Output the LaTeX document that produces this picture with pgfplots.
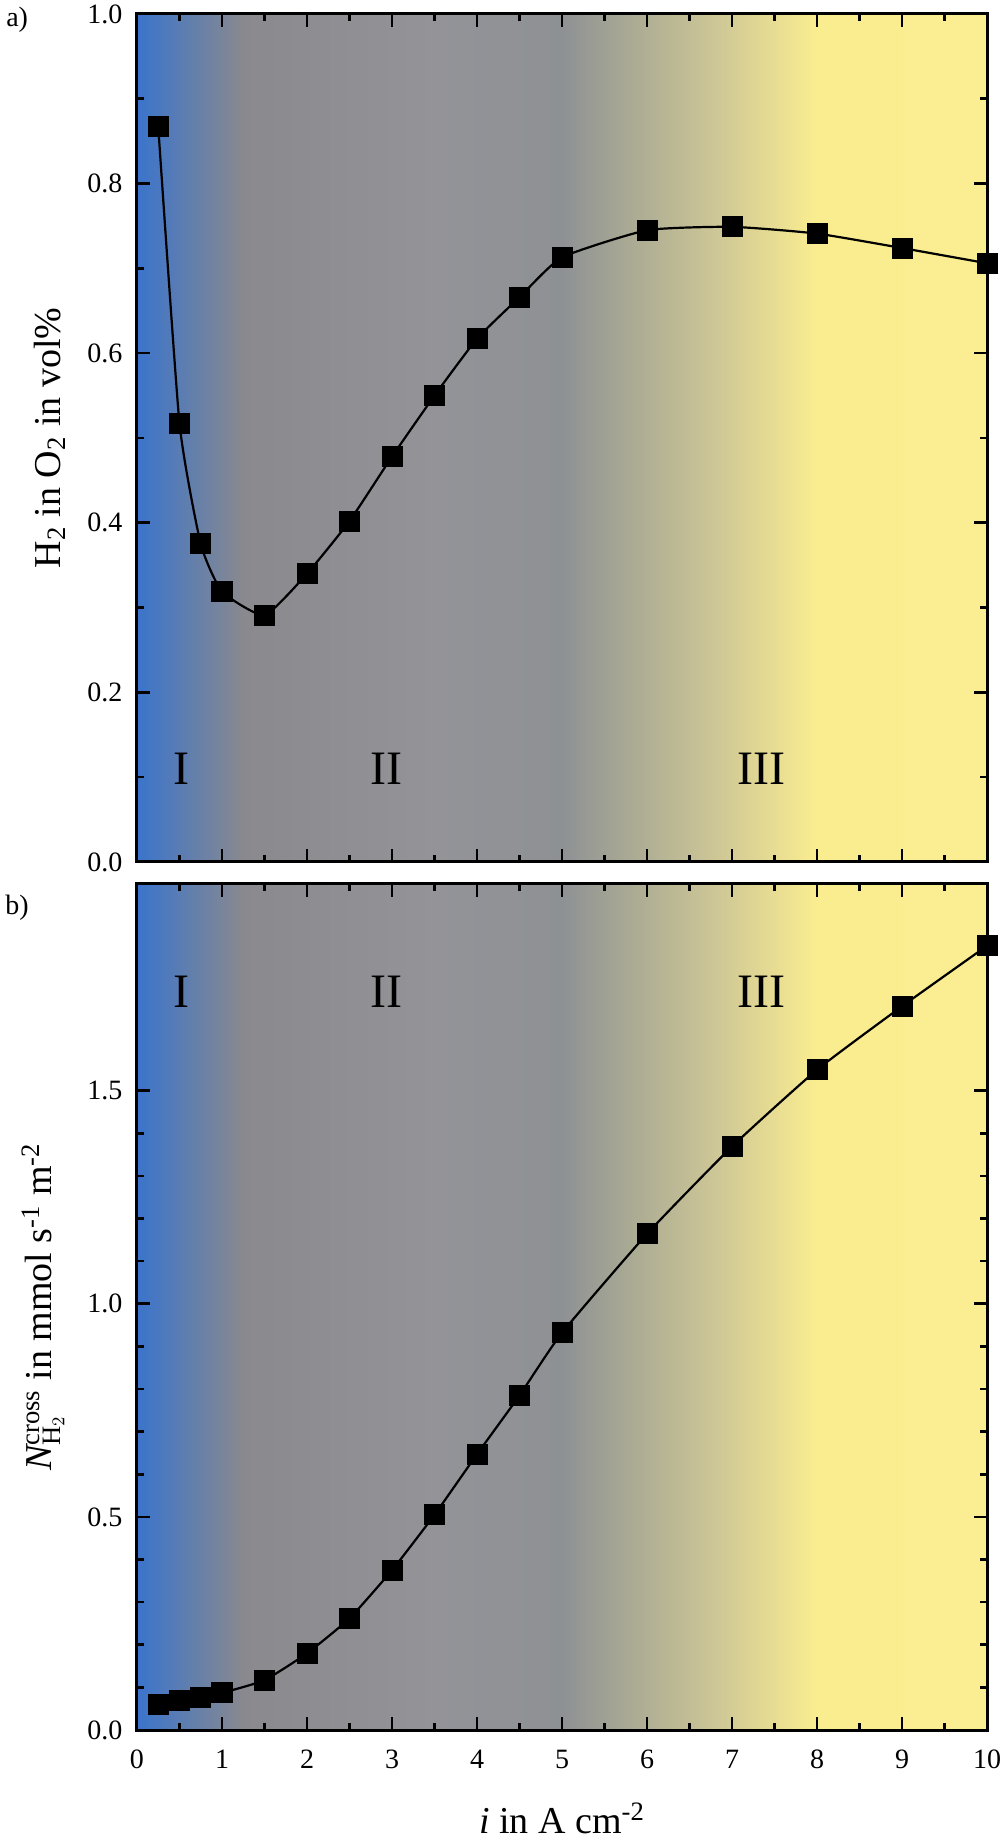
\documentclass[border=0pt]{standalone}
\usepackage{fontspec}
\setmainfont{Liberation Serif}
\usepackage{pgfplots}
\pgfplotsset{compat=1.18}

\definecolor{c0}{RGB}{58,116,204}
\definecolor{c1}{RGB}{137,137,142}
\definecolor{c2}{RGB}{147,147,152}
\definecolor{c3}{RGB}{142,145,148}
\definecolor{c4}{RGB}{170,170,148}
\definecolor{c5}{RGB}{205,198,150}
\definecolor{c6}{RGB}{250,237,144}
\definecolor{c7}{RGB}{251,237,145}

\pgfdeclarehorizontalshading{regions}{100bp}{color(0bp)=(c0); color(25bp)=(c0); color(31.25bp)=(c1); color(42.5bp)=(c2); color(50bp)=(c3); color(54bp)=(c4); color(59bp)=(c5); color(65bp)=(c6); color(75bp)=(c7); color(100bp)=(c7)}

\tikzset{
  reg/.style={font=\fontsize{24}{28}\selectfont},
  tag/.style={font=\fontsize{14}{16}\selectfont},
}

\pgfplotsset{
  common/.style={
    scale only axis, width=425pt,
    xmin=0, xmax=10,
    axis on top,
    clip mode=individual,
    tick align=inside,
    major tick length=6.5pt, minor tick length=3.5pt,
    tick style={line width=1.3pt, black},
    axis line style={line width=1.5pt},
    xtick={0,1,2,3,4,5,6,7,8,9,10},
    minor x tick num=1,
    /pgf/number format/assume math mode=true,
    ticklabel style={font=\fontsize{14}{16}\selectfont},
    xticklabel style={yshift=-6.3pt},
    yticklabel style={xshift=-3.8pt, /pgf/number format/.cd, fixed, fixed zerofill, precision=1},
    ylabel style={anchor=center, font=\fontsize{19}{22}\selectfont},
    xlabel style={at={(axis description cs:0.5,0)}, anchor=base, yshift=-51.5pt, font=\fontsize{19}{22}\selectfont},
  },
  dat/.style={black, line width=1.1pt, mark=square*, mark size=4.7pt, smooth, tension=0.3, mark options={solid, fill=black}},
}

\pgfplotstableread{
x y
0.25 0.867
0.5 0.517
0.75 0.375
1.0 0.319
1.5 0.291
2.0 0.340
2.5 0.402
3.0 0.478
3.5 0.550
4.0 0.617
4.5 0.666
5.0 0.713
6.0 0.745
7.0 0.749
8.0 0.741
9.0 0.724
10.0 0.706
}\topdata

\pgfplotstableread{
x y
0.25 0.060
0.5 0.070
0.75 0.076
1.0 0.087
1.5 0.117
2.0 0.180
2.5 0.262
3.0 0.375
3.5 0.505
4.0 0.647
4.5 0.785
5.0 0.932
6.0 1.164
7.0 1.369
8.0 1.549
9.0 1.698
10.0 1.840
}\botdata

\begin{document}
\begin{tikzpicture}
\begin{axis}[common,
  at={(0,434pt)}, anchor=south west, height=424pt,
  ymin=0, ymax=1,
  ytick={0,0.2,0.4,0.6,0.8,1.0},
  minor y tick num=1,
  xticklabel=\empty,
  ylabel={H\textsubscript{2} in O\textsubscript{2} in vol\%},
  ylabel style={at={(axis description cs:-0.1024,0.5)}},
]
\shade[shading=regions] (rel axis cs:0,0) rectangle (rel axis cs:1,1);
\addplot[dat] table[x=x,y=y] {\topdata};
\node[reg] at (axis cs:0.52,0.11) {I};
\node[reg] at (axis cs:2.94,0.11) {II};
\node[reg] at (axis cs:7.35,0.11) {III};
\node[tag] at (axis description cs:-0.141,0.993) {a)};
\end{axis}
\begin{axis}[common,
  at={(0,0)}, anchor=south west, height=423pt,
  ymin=0, ymax=1.985,
  ytick={0,0.5,1.0,1.5},
  minor y tick num=4,
  xlabel={\textit{i} in A cm\textsuperscript{-2}},
  ylabel={$\mathit{N}^{\mathrm{cross}}_{\mathrm{H}_{2}}$ in mmol s\textsuperscript{-1} m\textsuperscript{-2}},
  ylabel style={at={(axis description cs:-0.1106,0.5)}},
]
\shade[shading=regions] (rel axis cs:0,0) rectangle (rel axis cs:1,1);
\addplot[dat] table[x=x,y=y] {\botdata};
\node[reg] at (axis cs:0.52,1.731) {I};
\node[reg] at (axis cs:2.94,1.731) {II};
\node[reg] at (axis cs:7.35,1.731) {III};
\node[tag] at (axis description cs:-0.141,0.972) {b)};
\end{axis}
\pgfresetboundingbox
\path[use as bounding box] (-68.5pt,-54.5pt) rectangle (431.5pt,865pt);
\end{tikzpicture}
\end{document}
